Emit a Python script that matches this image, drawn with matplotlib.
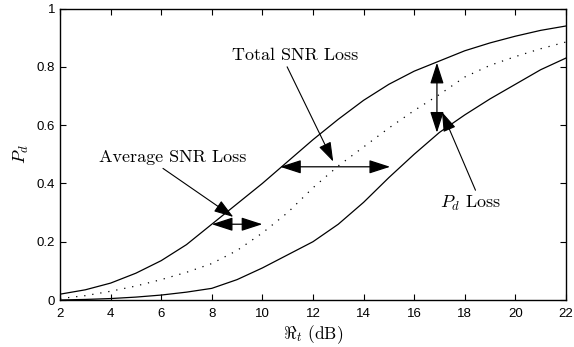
import numpy as np
import matplotlib
matplotlib.use("Agg")
import matplotlib.pyplot as plt

# Werte
snr = [2, 3, 4, 5, 6, 7, 8, 9, 10, 11, 12, 13, 14, 15, 16, 17, 18, 19, 20, 21, 22]
pd_oben = [0.020, 0.035, 0.058, 0.092, 0.135, 0.19, 0.26, 0.33, 0.40, 0.475, 0.55,
           0.62, 0.685, 0.74, 0.785, 0.82, 0.855, 0.882, 0.905, 0.925, 0.94]
pd_mitte = [0.005, 0.015, 0.03, 0.048, 0.07, 0.095, 0.125, 0.17, 0.23, 0.30, 0.385,
            0.46, 0.525, 0.59, 0.65, 0.705, 0.765, 0.805, 0.835, 0.862, 0.885]
pd_unten = [0.0, 0.002, 0.005, 0.01, 0.017, 0.027, 0.04, 0.07, 0.11, 0.155, 0.2,
            0.26, 0.335, 0.42, 0.5, 0.575, 0.635, 0.69, 0.74, 0.79, 0.83]

xticks = [2, 4, 6, 8, 10, 12, 14, 16, 18, 20, 22]
yticks = [0, 0.2, 0.4, 0.6, 0.8, 1]
ytick_labels = ["0", "0.2", "0.4", "0.6", "0.8", "1"]

plt.rcParams['mathtext.fontset'] = 'cm'
plt.rcParams['font.family'] = ['Liberation Sans', 'DejaVu Sans']

fig = plt.figure(figsize=(5.74, 3.47), dpi=100)
ax = fig.add_axes([0.1045, 0.1354, 0.8815, 0.8401])

ax.plot(snr, pd_oben, color='black', lw=0.9)
ax.plot(snr, pd_mitte, color='black', lw=0.9, linestyle=(0, (1, 5.5)))
ax.plot(snr, pd_unten, color='black', lw=0.9)

ax.set_xlim(2, 22)
ax.set_ylim(0, 1)
ax.set_xticks(xticks)
ax.set_yticks(yticks)
ax.set_yticklabels(ytick_labels)
ax.tick_params(direction='in', top=True, right=True, labelsize=9.5, length=4, width=0.8)
ax.tick_params(axis='x', pad=6)
for s in ax.spines.values():
    s.set_linewidth(1.0)

ax.set_xlabel(r'$\Re_t$ (dB)', fontsize=12.5, family='cmr10', labelpad=2)
ax.set_ylabel(r'$P_d$', fontsize=13, labelpad=4)

# Doppelpfeile
doppel = dict(arrowstyle='<|-|>,head_length=1.3,head_width=0.42', color='black',
              lw=0.9, shrinkA=0, shrinkB=0, mutation_scale=10)
ax.annotate('', xy=(8.0, 0.26), xytext=(10.0, 0.26), arrowprops=doppel)
ax.annotate('', xy=(10.7, 0.457), xytext=(15.05, 0.457), arrowprops=doppel)
ax.annotate('', xy=(16.9, 0.814), xytext=(16.9, 0.574), arrowprops=doppel)

# Beschriftungen mit Pfeilen
def pfeil(rel):
    return dict(arrowstyle='-|>,head_length=1.2,head_width=0.4', color='black',
                lw=0.8, shrinkA=1, shrinkB=0, mutation_scale=10, relpos=rel)

txt = dict(fontsize=13, family='cmr10', ha='center', va='center')
ax.annotate('Total SNR Loss', xy=(12.8, 0.475), xytext=(11.3, 0.84),
            arrowprops=pfeil((0.42, 0.0)), **txt)
ax.annotate('Average SNR Loss', xy=(8.85, 0.285), xytext=(6.45, 0.49),
            arrowprops=pfeil((0.4, 0.0)), **txt)
ax.annotate(r'$P_d$ Loss', xy=(17.1, 0.645), xytext=(18.25, 0.33),
            arrowprops=pfeil((0.6, 1.0)), **txt)

fig.savefig('out.png', dpi=100)
